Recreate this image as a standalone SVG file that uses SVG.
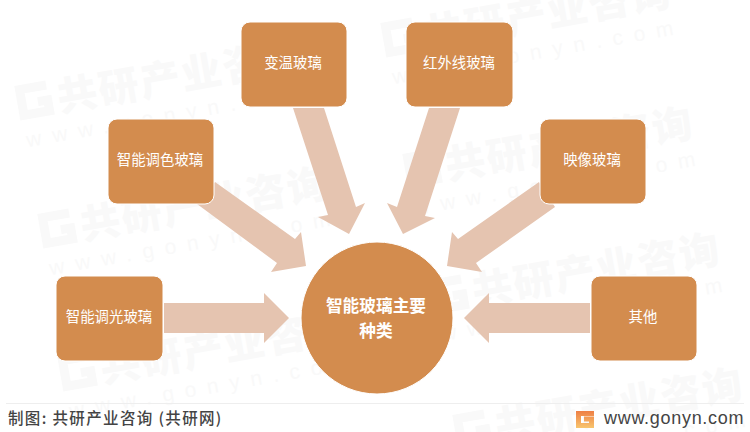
<svg xmlns="http://www.w3.org/2000/svg" width="750" height="432" viewBox="0 0 750 432">
<style>
text{font-family:"Noto Sans CJK SC","Liberation Sans",sans-serif}
.n{fill:#d38c4e;stroke:#fff;stroke-width:1}
.t{fill:#fff;font-size:14.4px;text-anchor:middle}
.a{fill:#e5c4b0}
.wm{fill:#f9f9f9;font-size:40px;font-weight:900;letter-spacing:2px}
.ws{fill:#f9f9f9;font-size:21px;font-family:"Liberation Sans",sans-serif}
.lg{fill:none;stroke:#f9f9f9;stroke-width:9}
</style>
<defs>
<g id="mark">
<path class="lg" d="M-9 -29H-36V-3H-10V-14H-20"/>
<text class="wm">共研产业咨询</text>
<text class="ws" x="-38" y="29" textLength="285" lengthAdjust="spacing">www.gonyn.com</text>
</g>
<linearGradient id="logo" gradientUnits="userSpaceOnUse" x1="0" y1="411" x2="0" y2="428"><stop offset="0" stop-color="#ee7f45"/><stop offset="1" stop-color="#f8c56e"/></linearGradient>
</defs>
<rect width="750" height="432" fill="#fff"/>
<g id="watermark">
<use href="#mark" transform="translate(60,112) rotate(-10)"/>
<use href="#mark" transform="translate(426,49) rotate(-10)"/>
<use href="#mark" transform="translate(448,180) rotate(-10)"/>
<use href="#mark" transform="translate(83,240) rotate(-10)"/>
<use href="#mark" transform="translate(475,306) rotate(-10)"/>
<use href="#mark" transform="translate(103,383) rotate(-10)"/>
<use href="#mark" transform="translate(498,441) rotate(-10)"/>
</g>
<g id="connectors">
<polygon class="a" points="164,303 264,303 264,293 289,318 264,343 264,333 164,333"/>
<polygon class="a" points="590,303 489,303 489,293 464,318 489,343 489,333 590,333"/>
<polygon class="a" points="215,182 295,239 301,232 306,266 271,272 277,263 197,204"/>
<polygon class="a" points="539,182 458,239 452,232 447,266 482,272 476,263 555,207"/>
<polygon class="a" points="293,108 324,108 356,207 365,203 349,234 318,217 328,215"/>
<polygon class="a" points="429,108 460,108 425,216 435,218 403,234 387,203 397,207"/>
</g>
<g id="n1"><rect class="n" x="108" y="119" width="106" height="85" rx="9"/><text class="t" x="160" y="165">智能调色玻璃</text></g>
<g id="n2"><rect class="n" x="241" y="22" width="106" height="85" rx="9"/><text class="t" x="293" y="68">变温玻璃</text></g>
<g id="n3"><rect class="n" x="406" y="22" width="107" height="85" rx="9"/><text class="t" x="459" y="68">红外线玻璃</text></g>
<g id="n4"><rect class="n" x="540" y="119" width="106" height="85" rx="9"/><text class="t" x="592" y="165">映像玻璃</text></g>
<g id="n5"><rect class="n" x="56" y="276" width="107" height="85" rx="9"/><text class="t" x="109" y="322">智能调光玻璃</text></g>
<g id="n6"><rect class="n" x="591" y="276" width="106" height="85" rx="9"/><text class="t" x="643" y="322">其他</text></g>
<g id="center"><circle class="n" cx="377" cy="318" r="76"/><text fill="#fff" font-size="16.7px" font-weight="700" text-anchor="middle"><tspan x="376" y="312">智能玻璃主要</tspan><tspan x="376" y="337">种类</tspan></text></g>
<g id="footer">
<line x1="6" y1="403.500" x2="744" y2="403.500" stroke="#eeeeee" stroke-width="1"/>
<text x="8" y="424" font-size="15.500px" font-weight="500" fill="#444" letter-spacing="1.35">制图: 共研产业咨询 (共研网)</text>
<path d="M594 413.500H578.500V425.500H591.500V419H584" fill="none" stroke="url(#logo)" stroke-width="5"/>
<text x="604" y="424" font-size="18px" fill="#444" style="font-family:'Liberation Sans',sans-serif" letter-spacing="0.7">www.gonyn.com</text>
</g>
</svg>
